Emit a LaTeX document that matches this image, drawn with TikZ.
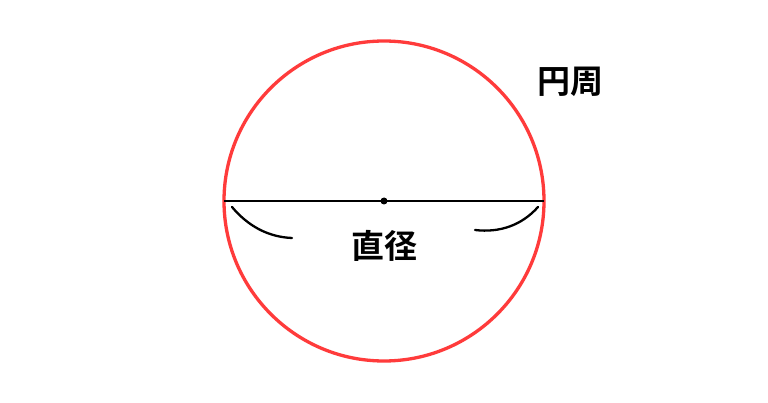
\documentclass[tikz,border=0pt]{standalone}
\usepackage{fontspec}
\newfontfamily\cjk{Noto Sans CJK JP Bold}
\definecolor{circred}{HTML}{FF3B3B}
\begin{document}
\begin{tikzpicture}[x=1pt,y=-1pt,
  lbl/.style={font=\cjk\fontsize{33}{33}\selectfont, inner sep=0pt},
  thin arc/.style={black, line width=2.3pt, line cap=round}]
\useasboundingbox (0,0) rectangle (768,403);
\fill[white] (0,0) rectangle (768,403);
\coordinate (c) at (384,201);
\draw[circred, line width=3.3pt] (c) circle[radius=160];
\coordinate (l) at (224,201);
\coordinate (r) at (544,201);
\draw[black, line width=2.6pt] (l) -- (r);
\fill (c) circle[radius=3.5];
\coordinate (a1) at (232,207);
\coordinate (a2) at (292,238);
\coordinate (b1) at (475,230);
\coordinate (b2) at (538,207);
\draw[thin arc] (a1) .. controls (248,226) and (268,237) .. (a2);
\draw[thin arc] (b1) .. controls (500,233) and (522,225) .. (b2);
\node[lbl] (d) at (384,246) {直径};
\node[lbl] (e) at (570,82) {円周};
\end{tikzpicture}
\end{document}
